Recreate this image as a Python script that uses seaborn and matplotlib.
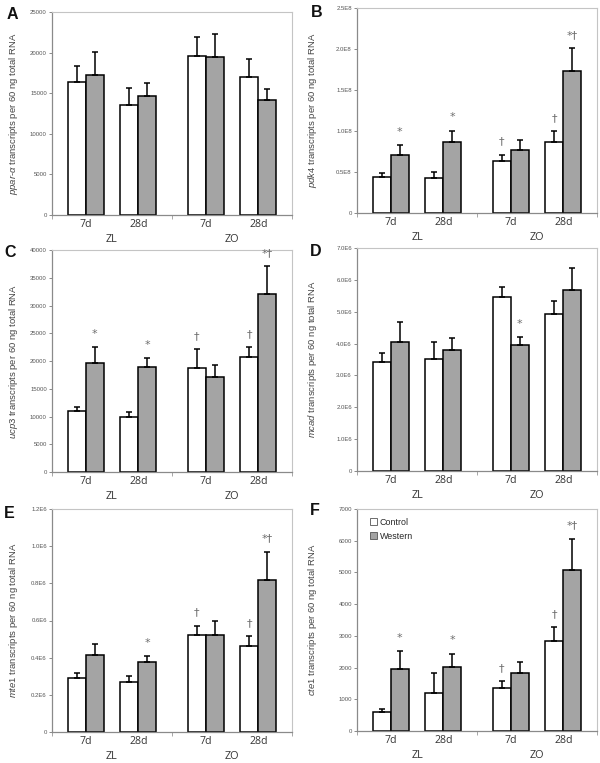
import numpy as np
import pandas as pd
import matplotlib
matplotlib.use("Agg")
import matplotlib.pyplot as plt
import seaborn as sns
from matplotlib.patches import Patch

# ---------------- data ----------------
groups = ["ZL", "ZO"]
days = ["7d", "28d", "7d", "28d"]
diets = ["Control", "Western"]

# A: ppar-alpha
ppar_ctrl = [16400, 13600, 19600, 17000]
ppar_ctrl_err = [1900, 2100, 2300, 2250]
ppar_west = [17300, 14700, 19450, 14200]
ppar_west_err = [2750, 1600, 2850, 1300]
ppar_ctrl_marks = ["", "", "", ""]
ppar_west_marks = ["", "", "", ""]
ppar_ticks = [0, 5000, 10000, 15000, 20000, 25000]
ppar_ticklabels = ["0", "5000", "10000", "15000", "20000", "25000"]

# B: pdk4
pdk4_ctrl = [0.44e8, 0.43e8, 0.63e8, 0.86e8]
pdk4_ctrl_err = [0.045e8, 0.07e8, 0.08e8, 0.14e8]
pdk4_west = [0.71e8, 0.86e8, 0.77e8, 1.73e8]
pdk4_west_err = [0.12e8, 0.145e8, 0.12e8, 0.28e8]
pdk4_ctrl_marks = ["", "", "\u2020", "\u2020"]
pdk4_west_marks = ["*", "*", "", "*\u2020"]
pdk4_ticks = [0, 0.5e8, 1.0e8, 1.5e8, 2.0e8, 2.5e8]
pdk4_ticklabels = ["0", "0.5E8", "1.0E8", "1.5E8", "2.0E8", "2.5E8"]

# C: ucp3
ucp3_ctrl = [11000, 9840, 18730, 20770]
ucp3_ctrl_err = [700, 1020, 3360, 1740]
ucp3_west = [19630, 18970, 17110, 32110]
ucp3_west_err = [2820, 1620, 2160, 4920]
ucp3_ctrl_marks = ["", "", "\u2020", "\u2020"]
ucp3_west_marks = ["*", "*", "", "*\u2020"]
ucp3_ticks = [0, 5000, 10000, 15000, 20000, 25000, 30000, 35000, 40000]
ucp3_ticklabels = ["0", "5000", "10000", "15000", "20000", "25000", "30000", "35000", "40000"]

# D: mcad
mcad_ctrl = [3.43e6, 3.53e6, 5.47e6, 4.92e6]
mcad_ctrl_err = [0.27e6, 0.52e6, 0.31e6, 0.41e6]
mcad_west = [4.06e6, 3.79e6, 3.96e6, 5.68e6]
mcad_west_err = [0.61e6, 0.38e6, 0.24e6, 0.68e6]
mcad_ctrl_marks = ["", "", "", ""]
mcad_west_marks = ["", "", "*", ""]
mcad_ticks = [0, 1e6, 2e6, 3e6, 4e6, 5e6, 6e6, 7e6]
mcad_ticklabels = ["0", "1.0E6", "2.0E6", "3.0E6", "4.0E6", "5.0E6", "6.0E6", "7.0E6"]

# E: mte1
mte1_ctrl = [0.289e6, 0.267e6, 0.523e6, 0.464e6]
mte1_ctrl_err = [0.028e6, 0.034e6, 0.050e6, 0.050e6]
mte1_west = [0.412e6, 0.376e6, 0.523e6, 0.819e6]
mte1_west_err = [0.059e6, 0.034e6, 0.072e6, 0.152e6]
mte1_ctrl_marks = ["", "", "\u2020", "\u2020"]
mte1_west_marks = ["", "*", "", "*\u2020"]
mte1_ticks = [0, 0.2e6, 0.4e6, 0.6e6, 0.8e6, 1.0e6, 1.2e6]
mte1_ticklabels = ["0", "0.2E6", "0.4E6", "0.6E6", "0.8E6", "1.0E6", "1.2E6"]

# F: cte1
cte1_ctrl = [590, 1195, 1352, 2851]
cte1_ctrl_err = [100, 630, 210, 430]
cte1_west = [1950, 2023, 1834, 5073]
cte1_west_err = [566, 419, 336, 996]
cte1_ctrl_marks = ["", "", "\u2020", "\u2020"]
cte1_west_marks = ["*", "*", "", "*\u2020"]
cte1_ticks = [0, 1000, 2000, 3000, 4000, 5000, 6000, 7000]
cte1_ticklabels = ["0", "1000", "2000", "3000", "4000", "5000", "6000", "7000"]

# ---------------- style ----------------
sns.set_style("white")
plt.rcParams["font.family"] = ["Liberation Sans", "DejaVu Sans"]
plt.rcParams["mathtext.fontset"] = "custom"
plt.rcParams["mathtext.rm"] = "Liberation Sans"
plt.rcParams["mathtext.it"] = "Liberation Sans:italic"

PALETTE = {"Control": "white", "Western": "#a4a4a4"}
POS = [0.56, 1.44, 2.56, 3.44]        # bar-pair centres on a 0..4 axis
GROUP_CENTERS = [1.0, 3.0]
W, H = 600, 763

fig = plt.figure(figsize=(W / 100, H / 100), dpi=100)


def px_axes(l, r, t, b):
    return fig.add_axes([l / W, 1 - b / H, (r - l) / W, (b - t) / H])


def draw_panel(ax, gene, ctrl, ctrl_err, west, west_err, ctrl_marks, west_marks,
               ticks, ticklabels, label_x, legend=False):
    df = pd.DataFrame({
        "pos": POS + POS,
        "diet": ["Control"] * 4 + ["Western"] * 4,
        "value": list(ctrl) + list(west),
    })
    sns.barplot(data=df, x="pos", y="value", hue="diet", hue_order=diets,
                native_scale=True, palette=PALETTE, width=0.68, saturation=1,
                edgecolor="black", linewidth=1.1, errorbar=None, legend=False,
                ax=ax, zorder=2)
    for cont, errs, marks in zip(ax.containers, [ctrl_err, west_err],
                                 [ctrl_marks, west_marks]):
        bars = sorted(cont, key=lambda p: p.get_x())
        xs = [b.get_x() + b.get_width() / 2 for b in bars]
        hs = [b.get_height() for b in bars]
        ax.errorbar(xs, hs, yerr=[np.zeros(len(errs)), errs], fmt="none",
                    ecolor="black", elinewidth=1.1, capsize=1.9, capthick=1.1,
                    zorder=3)
        for x, h, e, m in zip(xs, hs, errs, marks):
            if m:
                ax.annotate(m, xy=(x, h + e), xytext=(0, 9.5),
                            textcoords="offset points", ha="center", va="center",
                            fontsize=8, color="#6e6e6e",
                            family=["DejaVu Sans"])
    ax.set_xlim(0, 4)
    ax.set_ylim(ticks[0], ticks[-1])
    ax.set_yticks(ticks)
    ax.set_yticklabels(ticklabels)
    ax.set_xticks([0, 2, 4])
    ax.set_xticklabels([])
    ax.set_xlabel("")
    ax.set_ylabel(gene + " transcripts per 60 ng total RNA", fontsize=6.8,
                  color="#444444")
    ax.yaxis.set_label_coords(label_x, 0.5)
    ax.tick_params(axis="y", length=2.5, width=0.6, color="#777777", pad=1.2,
                   labelsize=4.3, labelcolor="#555555", left=True)
    ax.tick_params(axis="x", length=3, width=0.6, color="#999999", bottom=True,
                   direction="out")
    for s in ["top", "right"]:
        ax.spines[s].set_color("#c4c4c4")
        ax.spines[s].set_linewidth(0.8)
    for s in ["left", "bottom"]:
        ax.spines[s].set_color("#8a8a8a")
        ax.spines[s].set_linewidth(0.9)
    for x, d in zip(POS, days):
        ax.annotate(d, xy=(x, 0), xycoords=("data", "axes fraction"),
                    xytext=(0, -7), textcoords="offset points", ha="center",
                    va="center", fontsize=7.6, color="#333333",
                    family=["Open Sans", "DejaVu Sans"])
    for x, g in zip(GROUP_CENTERS, groups):
        ax.annotate(g, xy=(x, 0), xycoords=("data", "axes fraction"),
                    xytext=(0, -17.5), textcoords="offset points", ha="center",
                    va="center", fontsize=7.8, color="#333333",
                    family=["Open Sans", "DejaVu Sans"])
    if legend:
        handles = [Patch(facecolor="white", edgecolor="#555555", linewidth=0.6),
                   Patch(facecolor=PALETTE["Western"], edgecolor="#555555",
                         linewidth=0.6)]
        ax.legend(handles, diets, loc="upper left", bbox_to_anchor=(0.03, 0.985),
                  frameon=False, fontsize=6.4, handlelength=0.85,
                  handleheight=0.85, handletextpad=0.3, labelspacing=0.55,
                  borderaxespad=0.2)


LEFT_LX = -0.135
RIGHT_LX = -0.16

axA = px_axes(52, 292, 12, 215)
draw_panel(axA, r"$\it{ppar}$-$\it{\alpha}$", ppar_ctrl, ppar_ctrl_err, ppar_west,
           ppar_west_err, ppar_ctrl_marks, ppar_west_marks, ppar_ticks,
           ppar_ticklabels, LEFT_LX)
axB = px_axes(357, 597, 8, 213)
draw_panel(axB, r"$\it{pdk4}$", pdk4_ctrl, pdk4_ctrl_err, pdk4_west, pdk4_west_err,
           pdk4_ctrl_marks, pdk4_west_marks, pdk4_ticks, pdk4_ticklabels, RIGHT_LX)
axC = px_axes(52, 292, 250, 472)
draw_panel(axC, r"$\it{ucp3}$", ucp3_ctrl, ucp3_ctrl_err, ucp3_west, ucp3_west_err,
           ucp3_ctrl_marks, ucp3_west_marks, ucp3_ticks, ucp3_ticklabels, LEFT_LX)
axD = px_axes(357, 597, 248, 471)
draw_panel(axD, r"$\it{mcad}$", mcad_ctrl, mcad_ctrl_err, mcad_west, mcad_west_err,
           mcad_ctrl_marks, mcad_west_marks, mcad_ticks, mcad_ticklabels, RIGHT_LX)
axE = px_axes(52, 292, 509, 732)
draw_panel(axE, r"$\it{mte1}$", mte1_ctrl, mte1_ctrl_err, mte1_west, mte1_west_err,
           mte1_ctrl_marks, mte1_west_marks, mte1_ticks, mte1_ticklabels, LEFT_LX)
axF = px_axes(357, 597, 509, 731)
draw_panel(axF, r"$\it{cte1}$", cte1_ctrl, cte1_ctrl_err, cte1_west, cte1_west_err,
           cte1_ctrl_marks, cte1_west_marks, cte1_ticks, cte1_ticklabels, RIGHT_LX,
           legend=True)

for letter, (x, y) in zip("ABCDEF", [(7, 7), (311, 5), (4, 245), (310, 244),
                                      (4, 506), (310, 503)]):
    fig.text(x / W, 1 - y / H, letter, ha="left", va="top", fontsize=11.5,
             fontweight="bold", color="#111111")

fig.savefig("out.png", dpi=100)
